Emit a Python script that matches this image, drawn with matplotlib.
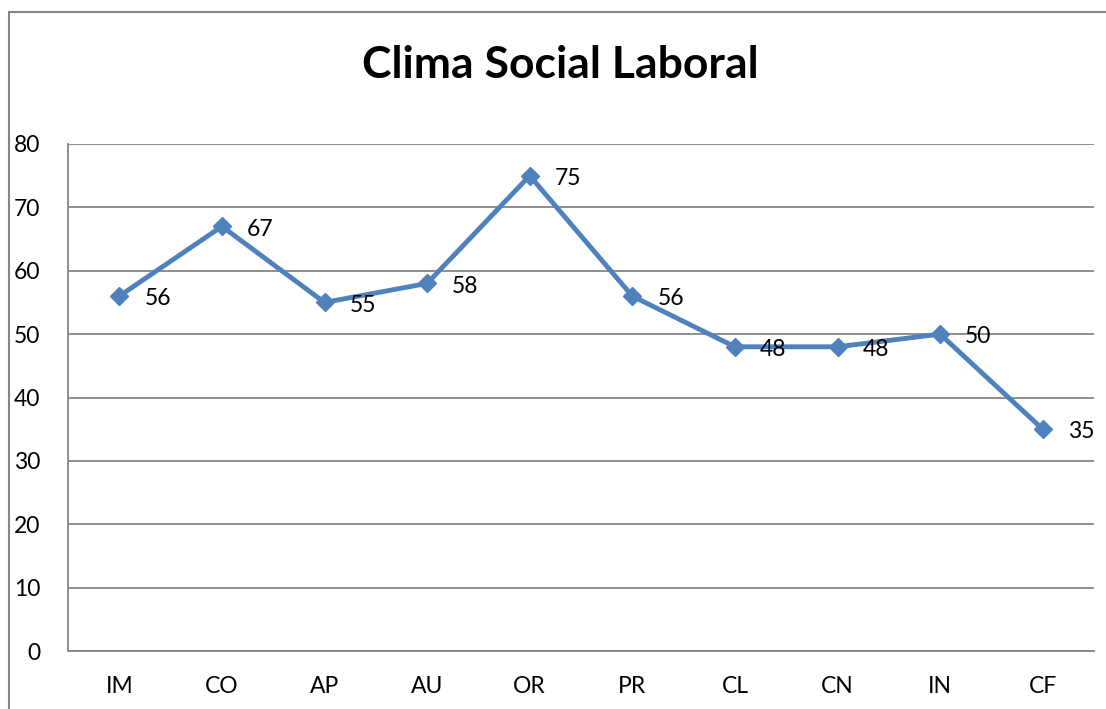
import matplotlib.pyplot as plt
from matplotlib.patches import Rectangle

categories = ['IM', 'CO', 'AP', 'AU', 'OR', 'PR', 'CL', 'CN', 'IN', 'CF']
values = [56, 67, 55, 58, 75, 56, 48, 48, 50, 35]
yticks = [0, 10, 20, 30, 40, 50, 60, 70, 80]

plt.rcParams['font.family'] = ['Lato', 'DejaVu Sans']

W, H = 1106, 709
fig = plt.figure(figsize=(W / 100, H / 100), dpi=100)

# outer chart border (cut off on right and bottom like the screenshot)
fig.patches.append(Rectangle((9 / W, -0.1), 1.2, (H - 12) / H + 0.1,
                             transform=fig.transFigure, fill=False,
                             edgecolor='#868686', linewidth=1.5))

ax = fig.add_axes([68 / W, (H - 651) / H, (1094 - 68) / W, (651 - 144) / H])
x = list(range(len(categories)))
ax.plot(x, values, color='#4F81BD', linewidth=3.5, marker='D', markersize=9.5,
        markerfacecolor='#4F81BD', markeredgecolor='#4F81BD', zorder=3)

for xi, v in zip(x, values):
    ax.annotate(str(v), (xi, v), xytext=(18, -2), textcoords='offset points',
                ha='left', va='center', fontsize=16.5, color='black')

ax.set_xlim(-0.5, len(categories) - 0.5)
ax.set_ylim(0, 80)
ax.set_yticks(yticks)
ax.set_xticks(x)
ax.set_xticklabels(categories)
ax.tick_params(axis='both', length=0, labelsize=16.5, colors='black')
ax.tick_params(axis='y', pad=20)
ax.tick_params(axis='x', pad=18)
ax.yaxis.grid(True, color='#868686', linewidth=1.3)
ax.set_axisbelow(True)
for s in ['top', 'right']:
    ax.spines[s].set_visible(False)
for s in ['left', 'bottom']:
    ax.spines[s].set_color('#868686')
    ax.spines[s].set_linewidth(1.3)

fig.text(560 / W, 1 - 65 / H, 'Clima Social Laboral', ha='center', va='center',
         fontsize=32, fontweight='bold')

fig.savefig('out.png', dpi=100)
